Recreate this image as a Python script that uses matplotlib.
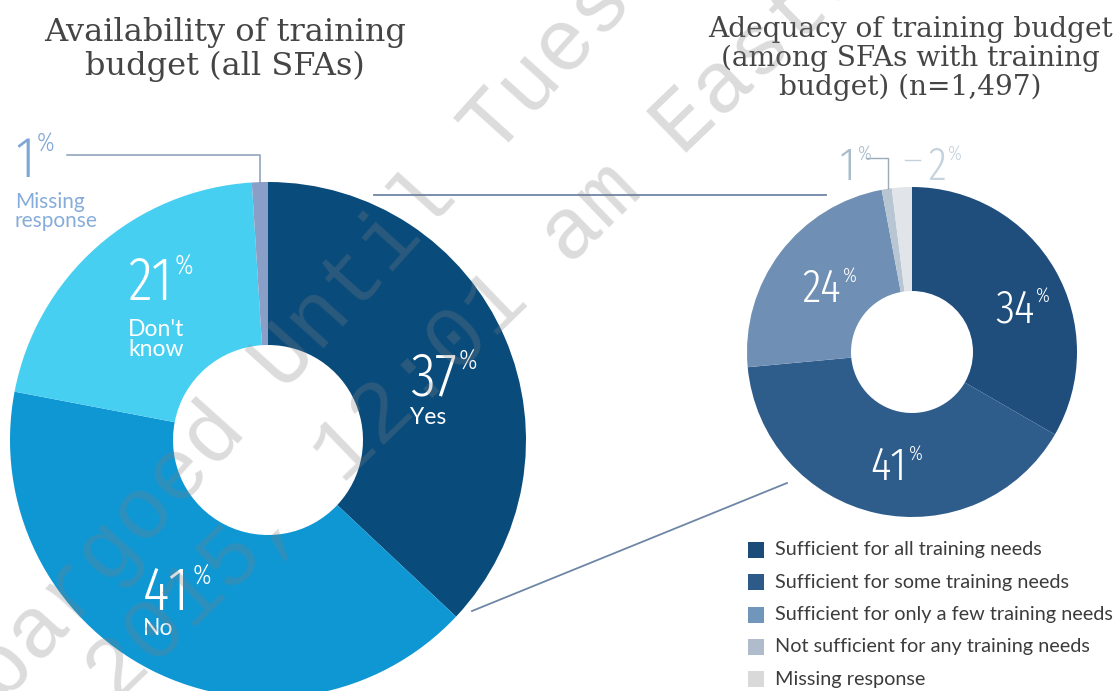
"""
Two donut charts: availability of training budget (all SFAs) and
adequacy of training budget among SFAs that have one.
"""
import matplotlib
matplotlib.use("Agg")
import matplotlib.pyplot as plt
from matplotlib.patches import Rectangle
from matplotlib.font_manager import FontProperties, fontManager

W, H = 1116, 691

# --- data -----------------------------------------------------------------
avail_labels = ["Yes", "No", "Don't\nknow", "Missing\nresponse"]
avail_values = [37, 41, 21, 1]
avail_colors = ["#094b7b", "#0f97d3", "#47cff1", "#8a9fc8"]

adeq_labels = [
    "Sufficient for all training needs",
    "Sufficient for some training needs",
    "Sufficient for only a few training needs",
    "Not sufficient for any training needs",
    "Missing response",
]
adeq_values = [34, 41, 24, 1, 2]
adeq_colors = ["#1f4e7c", "#2e5d8c", "#6f90b4", "#b8c5d3", "#e1e4e8"]
legend_colors = ["#1b4b78", "#2d5a87", "#7096bb", "#aebccc", "#d9d9d9"]

TITLE_FONT = ["DejaVu Serif"]
TXT_FONT = ["Lato", "DejaVu Sans"]

WEIGHTS = {"ultralight": 200, "light": 300, "normal": 400, "regular": 400,
           "book": 400, "medium": 500, "roman": 400, "semibold": 600,
           "demibold": 600, "bold": 700, "heavy": 800, "black": 900}


def narrow_font_file():
    # the big percentages use a tall, thin condensed face; pick the
    # narrowest, lightest upright face that is installed
    best = None
    for f in fontManager.ttflist:
        if f.style != "normal":
            continue
        w = f.weight if isinstance(f.weight, int) else WEIGHTS.get(str(f.weight), 400)
        if w < 300 or w > 550:
            continue
        key = (f.name + " " + f.fname).lower().replace(" ", "").replace("-", "")
        if "mono" in key:
            continue
        if "extracondensed" in key or "ultracondensed" in key:
            rank = 0
        elif "semicondensed" in key:
            rank = 3
        elif "condensed" in key:
            rank = 1
        elif "narrow" in key:
            rank = 2
        else:
            continue
        if "serif" in key and "sans" not in key:
            rank += 5
        score = (rank, w)
        if best is None or score < best[0]:
            best = (score, f.fname)
    return best[1] if best else None


NARROW = narrow_font_file()


def num_props(size):
    if NARROW:
        return FontProperties(fname=NARROW, size=size)
    return FontProperties(family=["Liberation Sans", "DejaVu Sans"],
                          size=size, stretch="condensed")


def py(y):
    # pixel row (from top) -> data y
    return H - y


fig = plt.figure(figsize=(W / 100, H / 100), dpi=100)
ax = fig.add_axes([0, 0, 1, 1])

# --- donuts ---------------------------------------------------------------
ax.pie(avail_values, colors=avail_colors, startangle=90, counterclock=False,
       radius=258, center=(268, py(440)),
       wedgeprops=dict(width=163, linewidth=0))
ax.pie(adeq_values, colors=adeq_colors, startangle=90, counterclock=False,
       radius=165, center=(912, py(352)),
       wedgeprops=dict(width=104, linewidth=0))

ax.set_xlim(0, W)
ax.set_ylim(0, H)
ax.set_aspect("equal")
ax.axis("off")


def pct(x, ybase, value, size, psize, color="white"):
    t = ax.text(x, py(ybase), str(value), fontproperties=num_props(size),
                color=color, ha="left", va="baseline")
    ax.annotate("%", xy=(1, 1), xycoords=t, xytext=(1.5, 1),
                textcoords="offset points", fontproperties=num_props(psize),
                color=color, ha="left", va="top")
    return t


# left donut labels (label baseline given for the last line)
left_pos = [(410, 395, 424), (143, 610, 635), (128, 300, 356)]
for (x, yb, yl), v, lab in zip(left_pos, avail_values, avail_labels):
    pct(x, yb, v, 44, 20)
    ax.text(x, py(yl), lab, family=TXT_FONT, fontsize=16.5, color="white",
            ha="left", va="baseline", linespacing=0.95)

# missing response (left) with leader line
pct(15, 177, avail_values[3], 41, 19, color="#7ea6d6")
ax.text(15, py(227), avail_labels[3], family=TXT_FONT, fontsize=15,
        color="#86acd9", ha="left", va="baseline", linespacing=0.95)
ax.plot([67, 260, 260], [py(155), py(155), py(183)], color="#8a9cb8", lw=1.1)

# right donut labels
right_pos = [(995, 322), (870, 480), (802, 302)]
for (x, yb), v in zip(right_pos, adeq_values[:3]):
    pct(x, yb, v, 34, 15)
pct(840, 180, adeq_values[3], 33, 15, color="#a9bccb")
pct(928, 180, adeq_values[4], 33, 15, color="#c5d3df")
ax.plot([866, 888, 888], [py(158), py(158), py(188)], color="#9aaab8", lw=1.0)
ax.plot([905, 920], [py(160), py(160)], color="#c5d0da", lw=1.0)

# connector lines between the donuts
ax.plot([374, 826], [py(195), py(195)], color="#6e86a6", lw=1.3)
ax.plot([472, 787], [py(611), py(483)], color="#6e86a6", lw=1.3)

# --- titles ---------------------------------------------------------------
ax.text(225, py(17), "Availability of training\nbudget (all SFAs)",
        family=TITLE_FONT, fontsize=23, color="#454545", ha="center",
        va="top", linespacing=1.12, multialignment="center")
ax.text(910, py(16),
        "Adequacy of training budget\n(among SFAs with training\nbudget) (n=1,497)",
        family=TITLE_FONT, fontsize=20.2, color="#454545", ha="center",
        va="top", linespacing=1.08, multialignment="center")

# --- legend ---------------------------------------------------------------
for i, (lab, col) in enumerate(zip(adeq_labels, legend_colors)):
    yc = 550 + i * 32.3
    ax.add_patch(Rectangle((748, py(yc + 8)), 16, 16, facecolor=col,
                           edgecolor="none"))
    ax.text(775, py(yc), lab, family=TXT_FONT, fontsize=14.3,
            color="#3c3c3c", ha="left", va="center")

# --- watermark ------------------------------------------------------------
wm = dict(family=["Liberation Mono", "DejaVu Sans Mono"], fontsize=63,
          color="#808080", alpha=0.28, ha="left", va="center",
          rotation_mode="anchor", zorder=10)
ax.text(-84, py(768), "Embargoed Until Tuesday", rotation=48, **wm)
ax.text(100, py(688), "2015, 12:01 am Eastern", rotation=44, **wm)

fig.savefig("out.png", dpi=100)
